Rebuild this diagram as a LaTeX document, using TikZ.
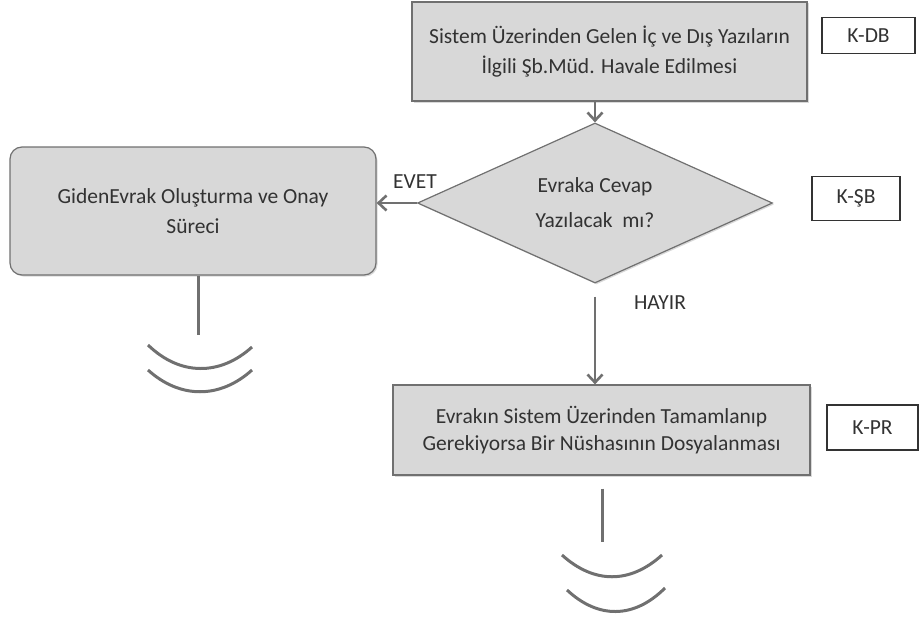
\documentclass[tikz,border=0pt]{standalone}
\usepackage{fontspec}
\setmainfont{Carlito}
\usetikzlibrary{shapes.geometric,arrows.meta,shadows}
\definecolor{boxgray}{RGB}{216,216,216}
\definecolor{linegray}{RGB}{112,112,112}
\definecolor{textgray}{RGB}{50,50,50}
\tikzset{
  stepbox/.style={draw=linegray, fill=boxgray, line width=1.2pt, align=center,
    text=textgray, inner sep=0pt,
    drop shadow={opacity=.3, shadow xshift=1.5pt, shadow yshift=-1.5pt}},
  rolebox/.style={draw=black!80, line width=1.5pt, fill=white, text=textgray,
    inner sep=0pt},
  flow/.style={draw=linegray, line width=2.6pt, -{Straight Barb[length=8pt,width=15pt]}},
  endline/.style={draw=linegray, line width=3pt}
}

\begin{document}
\begin{tikzpicture}[x=1pt, y=-1pt, font=\fontsize{21.5}{30}\selectfont]
    \useasboundingbox (0,0) rectangle (920,618);

    % process boxes
    \node[stepbox, minimum width=395pt, minimum height=99pt] (havale) at (609.5,51.5)
        {Sistem Üzerinden Gelen İç ve Dış Yazıların\\İlgili Şb.Müd. Havale Edilmesi};
    \node[stepbox, diamond, aspect=2.2, minimum width=355pt, minimum height=160pt,
        font=\fontsize{21.5}{35}\selectfont] (cevap) at (595,203)
        {Evraka Cevap\\Yazılacak~ mı?};
    \node[stepbox, rounded corners=12pt, minimum width=366pt, minimum height=128pt] (giden) at (193,211)
        {GidenEvrak Oluşturma ve Onay\\Süreci};
    \node[stepbox, minimum width=417pt, minimum height=90pt,
        font=\fontsize{21.5}{27}\selectfont] (dosya) at (601.5,430)
        {Evrakın Sistem Üzerinden Tamamlanıp\\Gerekiyorsa Bir Nüshasının Dosyalanması};

    % role boxes
    \node[rolebox, minimum width=93pt, minimum height=36pt] (kdb) at (868.5,35.5) {K-DB};
    \node[rolebox, minimum width=88pt, minimum height=44pt] (ksb) at (856,198.5) {K-ŞB};
    \node[rolebox, minimum width=91pt, minimum height=45pt] (kpr) at (872.5,427.5) {K-PR};

    % connectors
    \draw[flow] (havale.south -| cevap.north) -- (cevap.north);
    \draw[flow] (cevap.west) -- (cevap.west -| giden.east);
    \draw[flow, shorten <=13pt] (cevap.south) -- (cevap.south |- dosya.north);
    \node[text=textgray] (evet) at (415,182) {EVET};
    \node[text=textgray] (hayir) at (660,303) {HAYIR};

    % open ends
    \coordinate (gidenend) at (198,335);
    \draw[endline] (giden.south -| gidenend) -- (gidenend);
    \draw[endline] (148,345) .. controls (180,376) and (220,376) .. (252,347);
    \draw[endline] (148,370) .. controls (180,399) and (220,399) .. (252,370);

    \coordinate (dosyaend) at (602,542);
    \draw[endline, shorten <=13pt] (dosya.south -| dosyaend) -- (dosyaend);
    \draw[endline] (562,555) .. controls (594,584) and (630,584) .. (662,555);
    \draw[endline] (567,590) .. controls (598,619) and (634,619) .. (665,588);
\end{tikzpicture}
\end{document}
